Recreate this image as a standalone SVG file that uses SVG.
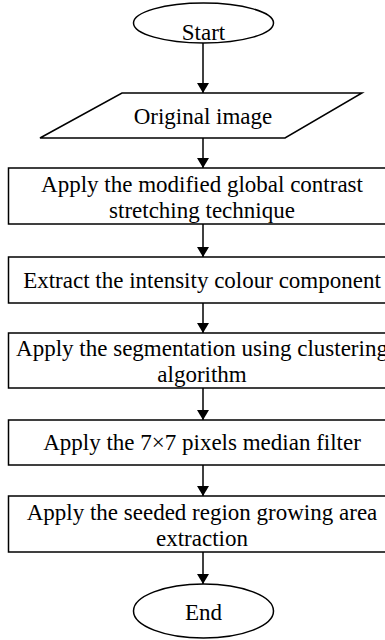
<svg xmlns="http://www.w3.org/2000/svg" width="385" height="640" viewBox="0 0 385 640">
<style>
.s{fill:#fff;stroke:#000;stroke-width:1.5}
.c{stroke:#000;stroke-width:1.5;fill:none}
.t{font-family:'Liberation Serif',Tinos,'DejaVu Serif',serif;font-size:23px;fill:#000;text-anchor:middle}
</style>
<defs>
<marker id="ah" markerWidth="10" markerHeight="12" refX="10" refY="6" orient="auto" markerUnits="userSpaceOnUse">
<path d="M0,0 L10,6 L0,12 Z" fill="#000"/>
</marker>
</defs>
<rect width="385" height="640" fill="#fff"/>
<g id="connectors">
<line class="c" x1="203" y1="43" x2="203" y2="93" marker-end="url(#ah)"/>
<line class="c" x1="203" y1="138" x2="203" y2="168" marker-end="url(#ah)"/>
<line class="c" x1="203" y1="224" x2="203" y2="257" marker-end="url(#ah)"/>
<line class="c" x1="203" y1="303" x2="203" y2="333" marker-end="url(#ah)"/>
<line class="c" x1="203" y1="388" x2="203" y2="420" marker-end="url(#ah)"/>
<line class="c" x1="203" y1="465" x2="203" y2="496" marker-end="url(#ah)"/>
<line class="c" x1="203" y1="552" x2="203" y2="584" marker-end="url(#ah)"/>
</g>
<g id="start">
<ellipse class="s" cx="203.5" cy="23" rx="70" ry="20"/>
<text class="t" font-family="Liberation Serif" x="203.5" y="40">Start</text>
</g>
<g id="input">
<polygon class="s" points="122,93 362,93 285,138 40,138"/>
<text class="t" font-family="Liberation Serif" x="203" y="124">Original image</text>
</g>
<g id="step1">
<rect class="s" x="8.5" y="168" width="385" height="56"/>
<text class="t" font-family="Liberation Serif" x="202" y="192">Apply the modified global contrast</text>
<text class="t" font-family="Liberation Serif" x="202" y="218">stretching technique</text>
</g>
<g id="step2">
<rect class="s" x="8.5" y="257" width="385" height="46"/>
<text class="t" font-family="Liberation Serif" x="202" y="288">Extract the intensity colour component</text>
</g>
<g id="step3">
<rect class="s" x="8.5" y="333" width="385" height="55"/>
<text class="t" font-family="Liberation Serif" x="202" y="356">Apply the segmentation using clustering</text>
<text class="t" font-family="Liberation Serif" x="202" y="382">algorithm</text>
</g>
<g id="step4">
<rect class="s" x="8.5" y="420" width="385" height="45"/>
<text class="t" font-family="Liberation Serif" x="202" y="450">Apply the 7×7 pixels median filter</text>
</g>
<g id="step5">
<rect class="s" x="8.5" y="496" width="385" height="56"/>
<text class="t" font-family="Liberation Serif" x="202" y="520">Apply the seeded region growing area</text>
<text class="t" font-family="Liberation Serif" x="202" y="546">extraction</text>
</g>
<g id="end">
<ellipse class="s" cx="203.5" cy="611" rx="70" ry="27"/>
<text class="t" font-family="Liberation Serif" x="203.5" y="620">End</text>
</g>
</svg>
